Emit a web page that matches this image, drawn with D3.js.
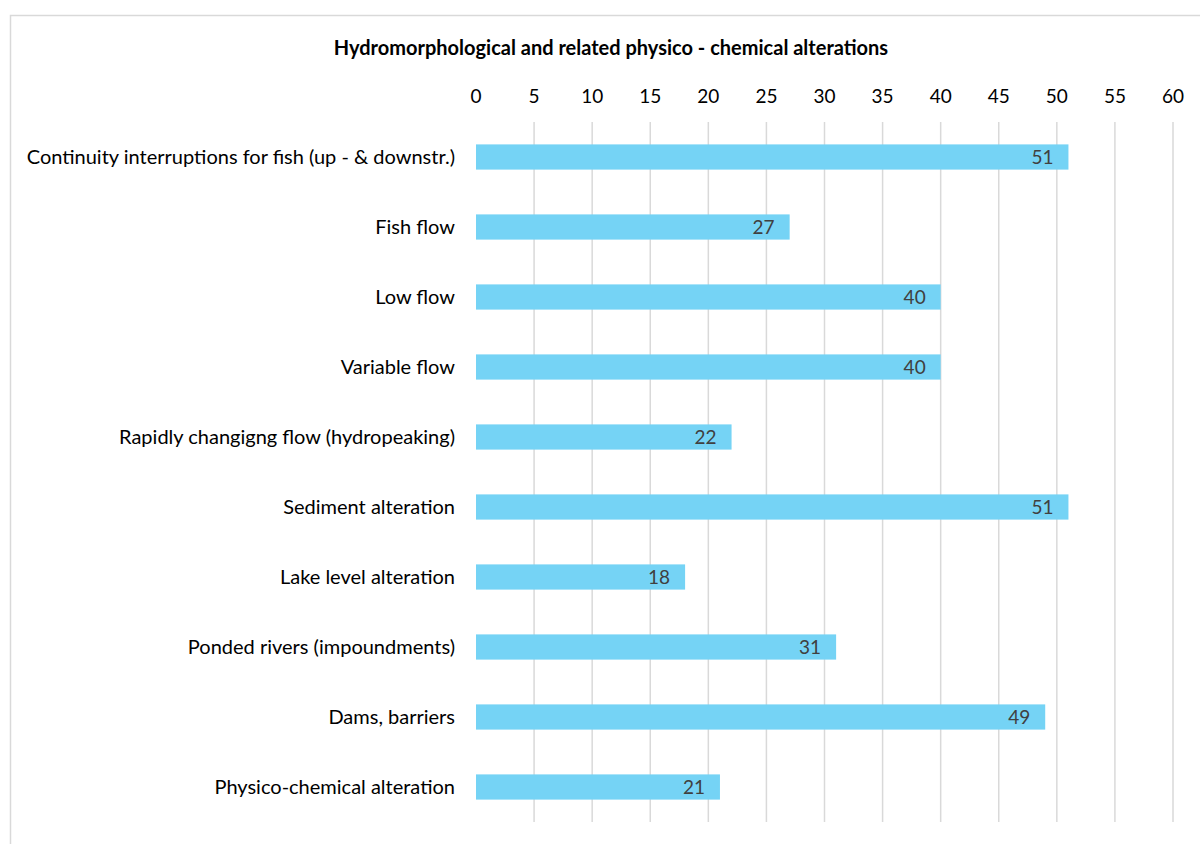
<!DOCTYPE html>
<html>
<head>
<meta charset="utf-8">
<script src="https://cdn.jsdelivr.net/npm/d3@7"></script>
<style>
  body { margin: 0; background: #fff; }
  svg { display: block; font-family: Lato, "Open Sans", sans-serif; }
</style>
</head>
<body>
<svg id="chart" width="1200" height="844"></svg>
<script>
// categories, top to bottom
const categories = [
  "Continuity interruptions for fish (up - & downstr.)",
  "Fish flow",
  "Low flow",
  "Variable flow",
  "Rapidly changigng flow (hydropeaking)",
  "Sediment alteration",
  "Lake level alteration",
  "Ponded rivers (impoundments)",
  "Dams, barriers",
  "Physico-chemical alteration"
];
const values = [51, 27, 40, 40, 22, 51, 18, 31, 49, 21];
const xTicks = [0, 5, 10, 15, 20, 25, 30, 35, 40, 45, 50, 55, 60];

const svg = d3.select("#chart");

// chart frame (runs off the right / bottom edge)
svg.append("rect")
  .attr("x", 10.5)
  .attr("y", 15.5)
  .attr("width", 1200)
  .attr("height", 900)
  .attr("fill", "#fff")
  .attr("stroke", "#d9d9d9")
  .attr("stroke-width", 1.5);

const margin = { left: 476, right: 27, top: 122, bottom: 22 };

const x = d3.scaleLinear()
  .domain([0, 60])
  .range([margin.left, 1200 - margin.right]);

const y = d3.scaleBand()
  .domain(categories)
  .range([margin.top, 844 - margin.bottom])
  .paddingInner(0.64)
  .paddingOuter(0.32);

// gridlines
svg.append("g")
  .selectAll("line")
  .data(xTicks.filter(d => d > 0))
  .enter()
  .append("line")
  .attr("x1", d => x(d))
  .attr("x2", d => x(d))
  .attr("y1", margin.top)
  .attr("y2", 844 - margin.bottom)
  .attr("stroke", "#d9d9d9")
  .attr("stroke-width", 1.5);

// top axis labels
svg.append("g")
  .selectAll("text")
  .data(xTicks)
  .enter()
  .append("text")
  .attr("x", d => x(d))
  .attr("y", 103)
  .attr("text-anchor", "middle")
  .attr("font-size", "19px")
  .attr("fill", "#000")
  .text(d => d);

// bars
svg.append("g")
  .selectAll("rect")
  .data(values)
  .enter()
  .append("rect")
  .attr("x", x(0))
  .attr("y", (d, i) => y(categories[i]))
  .attr("width", d => x(d) - x(0))
  .attr("height", y.bandwidth())
  .attr("fill", "#75d3f5");

// value labels inside bar ends
svg.append("g")
  .selectAll("text")
  .data(values)
  .enter()
  .append("text")
  .attr("x", d => x(d) - 15)
  .attr("y", (d, i) => y(categories[i]) + y.bandwidth() / 2 + 7)
  .attr("text-anchor", "end")
  .attr("font-size", "19px")
  .attr("fill", "#404040")
  .text(d => d);

// category labels
svg.append("g")
  .selectAll("text")
  .data(categories)
  .enter()
  .append("text")
  .attr("x", x(0) - 21)
  .attr("y", d => y(d) + y.bandwidth() / 2 + 7)
  .attr("text-anchor", "end")
  .attr("font-size", "20px")
  .attr("fill", "#000")
  .text(d => d);

// title
svg.append("text")
  .attr("x", 611)
  .attr("y", 55)
  .attr("text-anchor", "middle")
  .attr("font-size", "20px")
  .attr("font-weight", "bold")
  .attr("fill", "#000")
  .text("Hydromorphological and related physico - chemical alterations");
</script>
</body>
</html>
